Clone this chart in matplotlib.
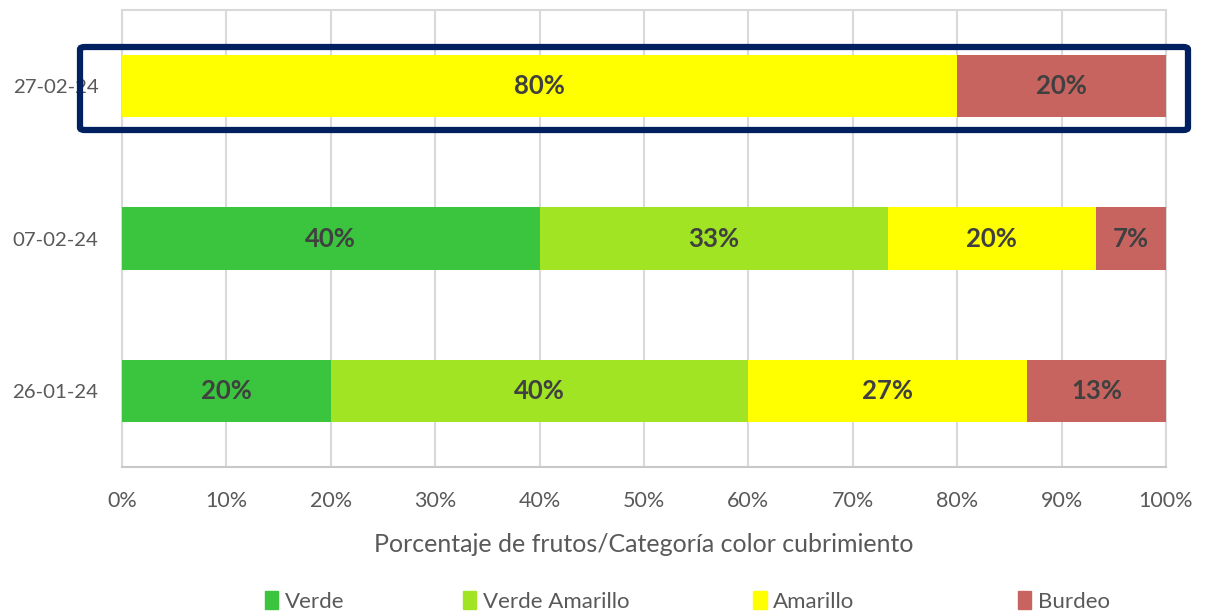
import numpy as np
import matplotlib
matplotlib.use('Agg')
from matplotlib import pyplot as plt
from matplotlib.patches import FancyBboxPatch, Patch

plt.rcParams['font.family'] = ['Lato', 'DejaVu Sans']

# datos (fraccion de frutos por categoria)
fechas = ['26-01-24', '07-02-24', '27-02-24']
categorias = ['Verde', 'Verde Amarillo', 'Amarillo', 'Burdeo']
verde = [20.0, 40.0, 0.0]
verde_amarillo = [40.0, 33.33, 0.0]
amarillo = [26.67, 20.0, 80.0]
burdeo = [13.33, 6.67, 20.0]
colores = ['#3BC43D', '#A1E423', '#FFFF00', '#C8645F']

series = [verde, verde_amarillo, amarillo, burdeo]

fig = plt.figure(figsize=(12.09, 6.11), dpi=100)
ax = fig.add_axes([0.1009, 0.2357, 0.8635, 0.7479])

y = np.arange(len(fechas))
left = np.zeros(len(fechas))
for nombre, vals, col in zip(categorias, series, colores):
    vals = np.array(vals) / 100.0
    ax.barh(y, vals, left=left, height=0.41, color=col, label=nombre, zorder=3)
    for yi, l, v in zip(y, left, vals):
        if v > 0:
            ax.text(l + v / 2, yi, '%d%%' % round(v * 100), ha='center', va='center',
                    fontsize=18.5, fontweight='bold', color='#404040', zorder=4)
    left = left + vals

ax.set_xlim(0, 1)
ax.set_ylim(-0.5, 2.5)
ax.set_yticks(y)
ax.set_yticklabels(fechas)
ax.set_xticks(np.linspace(0, 1, 11))
ax.set_xticklabels(['%d%%' % p for p in range(0, 101, 10)])
ax.tick_params(axis='x', length=0, labelsize=15.5, labelcolor='#595959', pad=17)
ax.tick_params(axis='y', length=0, labelsize=14.7, labelcolor='#595959', pad=17)
ax.grid(axis='x', color='#D9D9D9', linewidth=1.5, zorder=0)
for s in ['top', 'right', 'left']:
    ax.spines[s].set_color('#D9D9D9')
    ax.spines[s].set_linewidth(1.5)
ax.spines['bottom'].set_color('#C8C8C8')
ax.spines['bottom'].set_linewidth(1.5)
ax.set_xlabel('Porcentaje de frutos/Categoría color cubrimiento', fontsize=18,
              color='#595959', labelpad=16)

# recuadro destacado sobre la ultima fecha
caja = FancyBboxPatch((80 / 1209, (611 - 130) / 611), (1188 - 80) / 1209, 83 / 611,
                      boxstyle='round,pad=0,rounding_size=0.004', transform=fig.transFigure,
                      fill=False, edgecolor='#002060', linewidth=4.5, zorder=10)
fig.patches.append(caja)

# leyenda: una entrada por posicion, como en el original
pos_leyenda = [0.219, 0.383, 0.623, 0.842]
for nombre, col, xl in zip(categorias, colores, pos_leyenda):
    fig.legend(handles=[Patch(color=col, label=nombre)], loc='center left',
               bbox_to_anchor=(xl, 0.016), frameon=False, fontsize=16,
               labelcolor='#595959', handlelength=0.6, handleheight=0.9,
               handletextpad=0.3, borderaxespad=0, borderpad=0)

fig.savefig('out.png', dpi=100)
